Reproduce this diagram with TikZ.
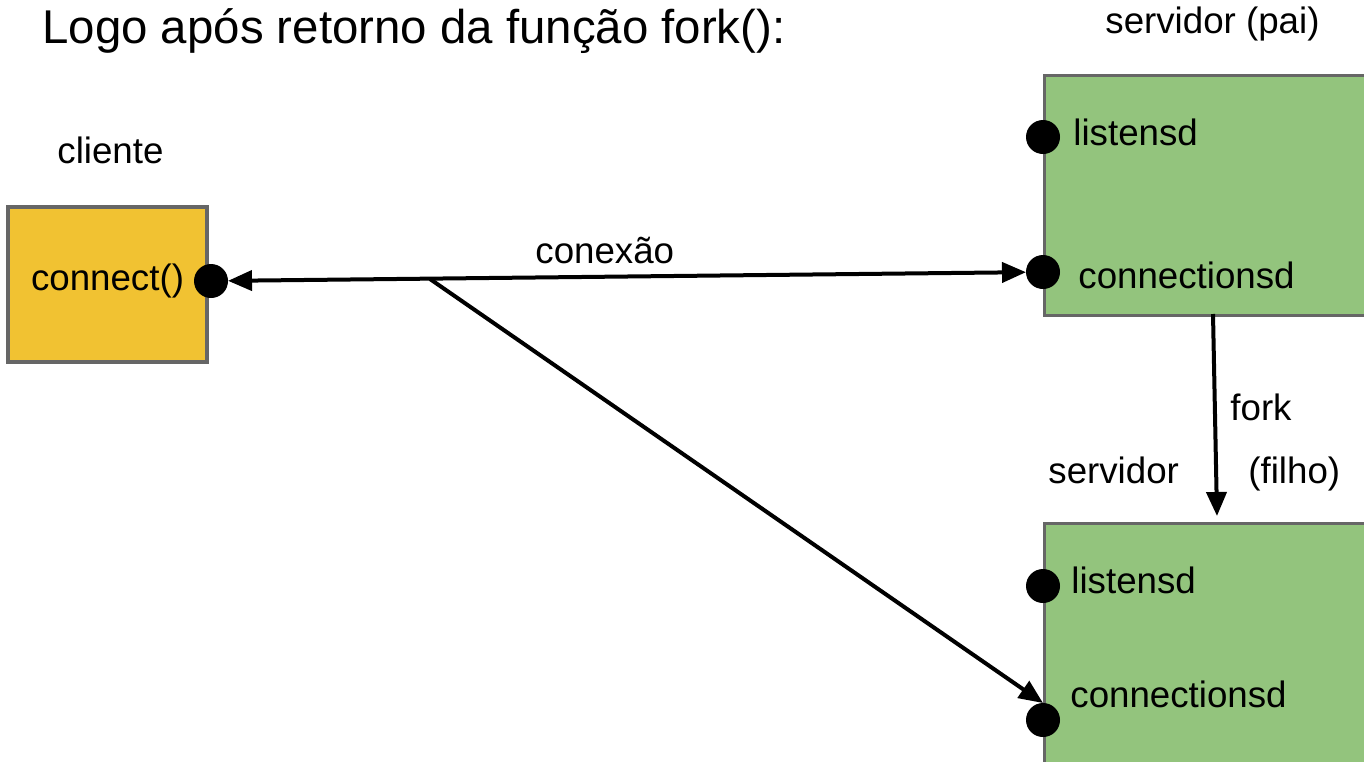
\documentclass[tikz,border=0pt]{standalone}
\usepackage{fontspec}
\setmainfont{Liberation Sans}
\usetikzlibrary{arrows.meta}

\definecolor{clientyellow}{HTML}{F1C232}
\definecolor{servergreen}{HTML}{93C47D}
\definecolor{boxgray}{HTML}{666666}

\newcommand{\lblfont}{\fontsize{18.35pt}{22pt}\selectfont}
\newcommand{\titlefont}{\fontsize{23.7pt}{28pt}\selectfont}

\tikzset{
  procbox/.style={draw=boxgray, line width=1.6pt, rectangle, inner sep=0pt},
  sock/.style={circle, fill=black, minimum size=17pt, inner sep=0pt, outer sep=0pt},
  lbl/.style={inner sep=0pt, anchor=base west, font=\lblfont},
  tip/.style={Triangle[length=12pt,width=10pt]},
  link/.style={line width=2pt, -{Triangle[length=12pt,width=10pt]}},
  biglink/.style={line width=2pt, {Triangle[length=12pt,width=10pt]}-{Triangle[length=12pt,width=10pt]}},
}

\begin{document}
\begin{tikzpicture}[x=0.5pt, y=-0.5pt]
  \useasboundingbox (0,0) rectangle (1364,761);
  \clip (0,0) rectangle (1364,761);

  % title
  \node[lbl, font=\titlefont] (title) at (42,43) {Logo após retorno da função fork():};

  % client process
  \node[lbl] (clientlbl) at (57,163) {cliente};
  \node[procbox, fill=clientyellow, minimum width=99.5pt, minimum height=77.5pt,
        font=\lblfont, text height=12pt, text depth=6.5pt] (client) at (107.5,284.5) {connect()};
  \node[sock] (cdot) at (211,281) {};

  % parent server process
  \node[lbl] (pailbl) at (1105,33) {servidor (pai)};
  \node[procbox, fill=servergreen, anchor=north west, minimum width=200pt, minimum height=120pt] (pai) at (1043,74) {};
  \node[sock] (plisten) at (1043,137) {};
  \node[sock] (pconn) at (1043,272) {};
  \node[lbl] (plistenlbl) at (1073,145) {listensd};
  \node[lbl] (pconnlbl) at (1078,288) {connectionsd};

  % child server process
  \node[lbl] (filholbl1) at (1048,483) {servidor};
  \node[lbl] (filholbl2) at (1248,483) {(filho)};
  \node[procbox, fill=servergreen, anchor=north west, minimum width=200pt, minimum height=130pt] (filho) at (1043,522) {};
  \node[sock] (blisten) at (1043,586) {};
  \node[sock] (bconn) at (1043,720) {};
  \node[lbl] (blistenlbl) at (1071,593) {listensd};
  \node[lbl] (bconnlbl) at (1070,707) {connectionsd};

  % connection between client and parent
  \draw[biglink] (cdot) -- (pconn);
  \node[lbl] (conlbl) at (535,263) {conexão};

  % the same connection, shared by the child
  \coordinate (split) at (430,279);
  \draw[link] (split) -- (bconn.north);

  % fork
  \coordinate (forkstart) at (1213,314);
  \coordinate (forkend) at (1217,516);
  \draw[link] (forkstart) -- (forkend);
  \node[lbl] (forklbl) at (1230,420) {fork};
\end{tikzpicture}
\end{document}
